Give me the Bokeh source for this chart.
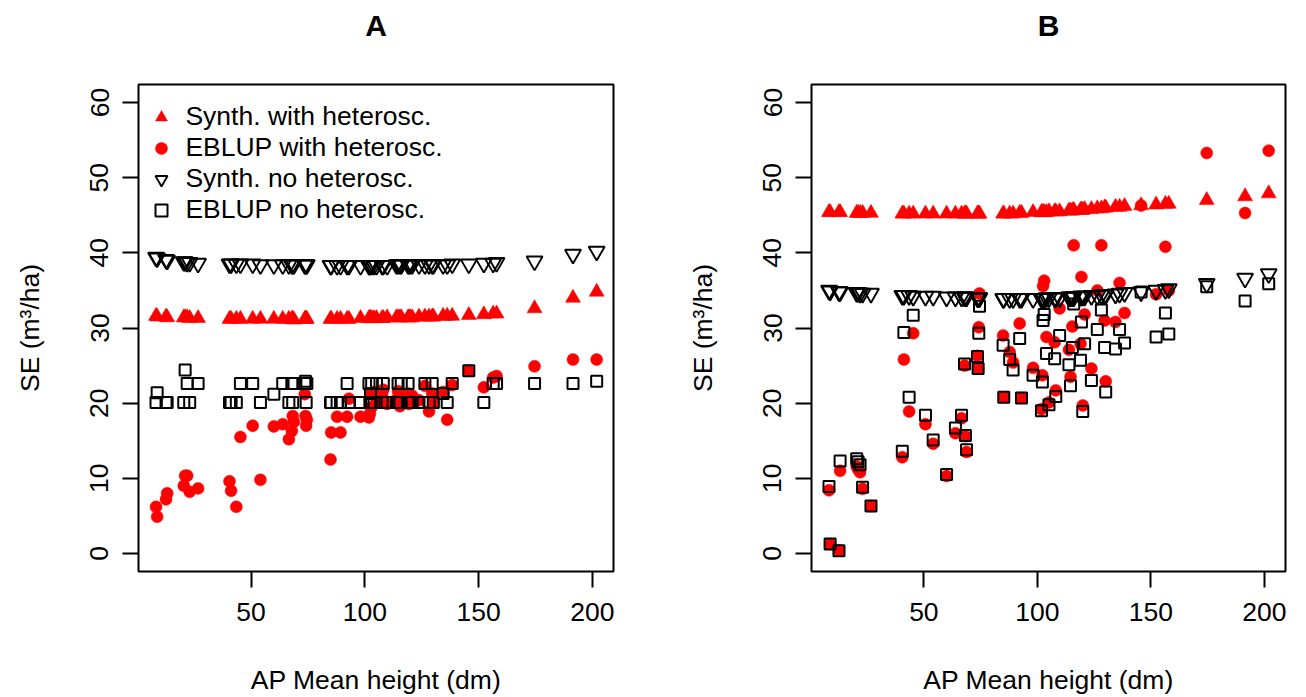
from bokeh.plotting import figure
from bokeh.layouts import row, column
from bokeh.models import Range1d, FixedTicker, Legend, LegendItem, ColumnDataSource
from bokeh.core.properties import value
from bokeh.embed import file_html
from bokeh.resources import INLINE

# AP mean height (dm) of the areas (shared by both panels)
x_height = [8.2, 8.7, 12.6, 13.1, 20.4, 21.0, 21.9, 23.0, 26.7,
            40.5, 41.2, 43.5, 45.3, 50.7, 54.1, 60.0, 63.9, 66.6, 67.9, 68.3, 68.8, 73.6, 73.9, 74.2, 74.5,
            84.9, 85.2, 87.8, 89.3, 92.2, 93.0, 98.1, 101.8, 102.2, 102.5, 103.0, 104.0, 105.1, 107.6,
            108.1, 109.8, 113.9, 114.6, 115.4, 116.0, 119.0, 119.4, 120.0, 120.8, 123.8, 126.4, 128.2,
            129.6, 130.1, 134.4, 136.2, 138.4, 145.7, 152.3, 156.4, 157.9,
            174.6, 191.5, 201.9]

# Panel A
a_synth_het = [31.6, 31.5, 31.5, 31.4, 31.4, 31.4, 31.4, 31.3, 31.3,
               31.2, 31.2, 31.2, 31.2, 31.2, 31.2, 31.2, 31.2, 31.2, 31.2, 31.2, 31.1, 31.2, 31.2, 31.2, 31.2,
               31.2, 31.2, 31.2, 31.2, 31.2, 31.2, 31.3, 31.3, 31.3, 31.3, 31.3, 31.3, 31.3, 31.3,
               31.3, 31.4, 31.4, 31.4, 31.4, 31.4, 31.4, 31.4, 31.4, 31.4, 31.5, 31.5, 31.5,
               31.5, 31.5, 31.6, 31.6, 31.6, 31.7, 31.8, 31.9, 31.9,
               32.6, 34.0, 34.8]
a_eblup_het = [6.2, 4.9, 7.2, 8.0, 9.0, 10.35, 10.35, 8.2, 8.66,
               9.6, 8.35, 6.2, 15.5, 17.0, 9.8, 16.9, 17.2, 15.2, 16.3, 18.3, 17.5, 21.2, 18.3, 17.0, 17.8,
               12.5, 16.1, 18.2, 16.1, 18.2, 20.6, 18.2, 18.1, 18.6, 21.3, 19.5, 21.5, 20.2, 21.0,
               21.8, 19.9, 20.5, 21.6, 19.6, 20.8, 21.3, 19.9, 20.3, 21.0, 20.4, 22.3, 18.9,
               21.3, 20.0, 21.5, 17.8, 22.4, 24.3, 22.1, 23.4, 23.6,
               24.9, 25.8, 25.8]
a_synth_no = [39.4, 39.3, 39.1, 39.0, 38.8, 38.8, 38.7, 38.7, 38.6,
              38.5, 38.5, 38.5, 38.5, 38.5, 38.4, 38.4, 38.4, 38.4, 38.4, 38.4, 38.4, 38.4, 38.4, 38.4, 38.4,
              38.3, 38.3, 38.3, 38.3, 38.3, 38.3, 38.3, 38.3, 38.3, 38.3, 38.3, 38.3, 38.3, 38.3,
              38.3, 38.3, 38.4, 38.4, 38.4, 38.4, 38.4, 38.4, 38.4, 38.4, 38.4, 38.4, 38.4,
              38.4, 38.4, 38.4, 38.4, 38.5, 38.5, 38.6, 38.6, 38.7,
              38.9, 39.8, 40.2]
a_eblup_no = [20.1, 21.4, 20.1, 20.1, 20.1, 24.4, 22.6, 20.1, 22.6,
              20.1, 20.1, 20.1, 22.6, 22.6, 20.1, 21.2, 22.6, 20.1, 22.6, 20.1, 22.6, 22.6, 22.9, 20.1, 22.6,
              20.1, 20.1, 20.1, 20.1, 22.6, 20.1, 20.1, 22.6, 20.1, 21.3, 22.6, 20.1, 22.6, 20.1,
              22.6, 20.1, 20.1, 22.6, 20.1, 22.6, 22.6, 20.1, 20.1, 20.1, 20.1, 22.6, 20.1,
              22.6, 20.1, 21.3, 20.1, 22.6, 24.3, 20.1, 22.6, 22.6,
              22.6, 22.6, 22.9]

# Panel B
b_synth_het = [45.4, 45.4, 45.4, 45.4, 45.3, 45.3, 45.3, 45.3, 45.3,
               45.2, 45.2, 45.2, 45.2, 45.2, 45.2, 45.2, 45.2, 45.2, 45.2, 45.2, 45.2, 45.2, 45.2, 45.2, 45.2,
               45.2, 45.2, 45.2, 45.2, 45.3, 45.3, 45.4, 45.4, 45.4, 45.4, 45.4, 45.4, 45.5, 45.5,
               45.5, 45.5, 45.6, 45.6, 45.6, 45.7, 45.7, 45.7, 45.7, 45.8, 45.8, 45.9, 45.9,
               46.0, 46.0, 46.1, 46.1, 46.2, 46.3, 46.4, 46.5, 46.5,
               47.0, 47.5, 47.9]
b_eblup_het = [8.4, 1.25, 0.4, 11.0, 11.6, 11.2, 10.8, 8.6, 6.3,
               12.8, 25.8, 18.9, 29.3, 17.2, 14.6, 10.3, 16.0, 18.0, 25.0, 15.6, 13.5, 26.3, 24.6, 30.1, 34.6,
               29.0, 20.8, 26.8, 25.4, 30.6, 20.7, 24.7, 19.2, 23.7, 35.6, 36.3, 28.8, 20.1, 28.1,
               21.7, 32.6, 27.1, 23.5, 30.2, 41.0, 27.9, 36.8, 19.7, 31.8, 24.6, 35.0, 41.0,
               31.0, 22.9, 30.8, 36.0, 32.0, 46.3, 34.5, 40.8, 35.0,
               53.3, 45.3, 53.6]
b_synth_no = [35.0, 34.9, 34.8, 34.8, 34.7, 34.7, 34.6, 34.6, 34.6,
              34.3, 34.3, 34.3, 34.2, 34.2, 34.2, 34.1, 34.1, 34.1, 34.1, 34.1, 34.1, 34.0, 34.0, 34.0, 34.0,
              33.9, 33.9, 33.9, 33.9, 33.9, 33.9, 33.9, 33.9, 33.9, 33.9, 33.9, 34.0, 34.0, 34.0,
              34.0, 34.0, 34.1, 34.1, 34.1, 34.1, 34.2, 34.2, 34.2, 34.2, 34.3, 34.3, 34.4,
              34.4, 34.4, 34.5, 34.6, 34.7, 34.8, 35.0, 35.1, 35.2,
              35.9, 36.6, 37.2]
b_eblup_no = [8.9, 1.25, 0.36, 12.3, 12.6, 12.2, 11.8, 8.8, 6.3,
              13.6, 29.4, 20.8, 31.7, 18.4, 15.1, 10.5, 16.7, 18.4, 25.2, 15.7, 13.8, 26.2, 24.6, 29.3, 32.9,
              27.7, 20.8, 25.8, 24.4, 28.6, 20.7, 23.7, 19.0, 22.8, 31.0, 31.8, 26.6, 19.8, 25.9,
              20.9, 29.0, 25.1, 22.3, 27.4, 33.2, 25.7, 30.8, 18.9, 27.9, 23.0, 29.8, 32.4,
              27.4, 21.5, 27.2, 29.8, 28.0, 34.8, 28.8, 32.0, 29.2,
              35.5, 33.6, 35.9]

x_ticks = [50, 100, 150, 200]
y_ticks = [0, 10, 20, 30, 40, 50, 60]
legend_labels = ["Synth. with heterosc.", "EBLUP with heterosc.",
                 "Synth. no heterosc.", "EBLUP no heterosc."]
panel_titles = ["A", "B"]

FONT = "Liberation Sans"
FIG_W = 653
TITLE_H = 82
MAIN_H = 697 - TITLE_H
BORDER_TOP, BORDER_BOTTOM = 2, 126


def make_title(text, left, right):
    t = figure(width=FIG_W, height=TITLE_H, output_backend="svg", toolbar_location=None,
               x_range=Range1d(0, FIG_W), y_range=Range1d(0, TITLE_H),
               min_border=0, min_border_left=0, min_border_right=0,
               min_border_top=0, min_border_bottom=0,
               x_axis_type=None, y_axis_type=None)
    t.outline_line_color = None
    t.xgrid.visible = False
    t.ygrid.visible = False
    cx = left + (FIG_W - left - right) / 2
    src = ColumnDataSource(dict(x=[cx], y=[TITLE_H - 25], t=[text]))
    t.text("x", "y", text="t", source=src, text_align="center", text_baseline="middle",
           text_font=value(FONT), text_font_size=value("30px"),
           text_font_style=value("bold"), text_color="black")
    return t


def make_panel(s_het, e_het, s_no, e_no, left, right, with_legend):
    p = figure(width=FIG_W, height=MAIN_H, output_backend="svg", toolbar_location=None,
               x_range=Range1d(0.5, 209.3), y_range=Range1d(-2.4, 62.4),
               min_border_left=left, min_border_right=right,
               min_border_top=BORDER_TOP, min_border_bottom=BORDER_BOTTOM,
               background_fill_color="white", border_fill_color="white")
    p.xgrid.visible = False
    p.ygrid.visible = False
    p.outline_line_color = "black"
    p.outline_line_width = 2
    p.outline_line_alpha = 1.0

    p.xaxis.ticker = FixedTicker(ticks=x_ticks)
    p.yaxis.ticker = FixedTicker(ticks=y_ticks)
    p.xaxis.axis_label = "AP Mean height (dm)"
    p.yaxis.axis_label = "SE (m³/ha)"
    for ax in p.axis:
        ax.axis_line_color = None
        ax.major_tick_out = 16
        ax.major_tick_in = 0
        ax.minor_tick_out = 0
        ax.minor_tick_in = 0
        ax.major_tick_line_width = 2
        ax.major_tick_line_color = "black"
        ax.major_label_text_font = FONT
        ax.major_label_text_font_size = "26.5px"
        ax.major_label_text_color = "black"
        ax.axis_label_text_font = FONT
        ax.axis_label_text_font_size = "26.5px"
        ax.axis_label_text_font_style = "normal"
        ax.axis_label_text_color = "black"
    p.xaxis.major_label_standoff = 15
    p.xaxis.axis_label_standoff = 41
    p.yaxis.major_label_orientation = "vertical"
    p.yaxis.major_label_standoff = 14
    p.yaxis.axis_label_standoff = 43

    src = ColumnDataSource(dict(x=x_height, sh=s_het, eh=e_het, sn=s_no, en=e_no))
    r1 = p.scatter("x", "sh", source=src, marker="triangle", size=15,
                   fill_color="#FF0000", line_color="#FF0000", line_width=0.5)
    r2 = p.scatter("x", "eh", source=src, marker="circle", size=12,
                   fill_color="#FF0000", line_color="#FF0000", line_width=0.5)
    r3 = p.scatter("x", "sn", source=src, marker="inverted_triangle", size=16,
                   fill_color=None, line_color="black", line_width=1.9)
    r4 = p.scatter("x", "en", source=src, marker="square", size=11,
                   fill_color=None, line_color="black", line_width=2)

    if with_legend:
        items = [LegendItem(label=lab, renderers=[r]) for lab, r in
                 zip(legend_labels, [r1, r2, r3, r4])]
        leg = Legend(items=items, location=(8.4, 346), glyph_width=30, glyph_height=30,
                     label_height=30, label_standoff=9, spacing=0, padding=0, margin=0,
                     border_line_color=None, background_fill_alpha=0,
                     label_text_font=FONT, label_text_font_size="26.5px",
                     label_text_color="black")
        p.add_layout(leg)
    return p


ta = make_title(panel_titles[0], 138, 40)
tb = make_title(panel_titles[1], 158, 21)
pa = make_panel(a_synth_het, a_eblup_het, a_synth_no, a_eblup_no, 138, 40, True)
pb = make_panel(b_synth_het, b_eblup_het, b_synth_no, b_eblup_no, 158, 21, False)

layout = column(row(ta, tb), row(pa, pb))
open("out.html", "w").write(file_html(layout, INLINE))
